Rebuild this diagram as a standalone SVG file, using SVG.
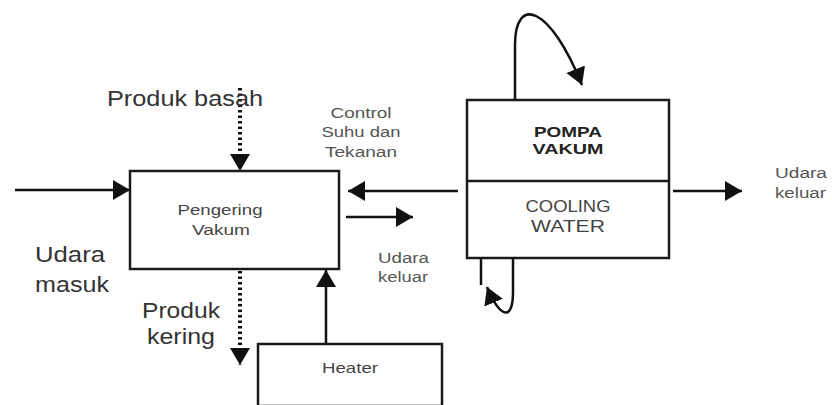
<svg xmlns="http://www.w3.org/2000/svg" width="832" height="405" viewBox="0 0 832 405">
<style>
.box{fill:#fff;stroke:#1a1a1a;stroke-width:2.5}
.ln{fill:none;stroke:#111;stroke-width:2.5}
.dot{fill:none;stroke:#111;stroke-width:4;stroke-dasharray:2.5 3}
.t{font-family:"Liberation Sans",Arial,sans-serif;fill:#333}
.big{font-size:22px}
.mid{font-size:15px;fill:#444}
.sm{font-size:14px;fill:#555}
.b{font-weight:bold;fill:#222}
</style>
<defs>
<marker id="ah" markerUnits="userSpaceOnUse" markerWidth="18" markerHeight="21" refX="17" refY="10" orient="auto">
<path d="M0,0 L17,10 L0,20 z" fill="#111"/>
</marker>
</defs>
<rect width="832" height="405" fill="#fff"/>
<g id="connectors">
<path class="ln" d="M15,190 H130" marker-end="url(#ah)"/>
<path class="dot" d="M240,88 V171" marker-end="url(#ah)"/>
<path class="dot" d="M240,271 V365" marker-end="url(#ah)"/>
<path class="ln" d="M326,344 V270" marker-end="url(#ah)"/>
<path class="ln" d="M458,191 H348" marker-end="url(#ah)"/>
<path class="ln" d="M346,217 H413" marker-end="url(#ah)"/>
<path class="ln" d="M673,191 H742" marker-end="url(#ah)"/>
<path class="ln" d="M515,100 V45 C515,-5 550,5 582,85" marker-end="url(#ah)"/>
<path class="ln" d="M481,258 V285"/>
<path class="ln" d="M513,258 V292 C513,322 500,318 487,287" marker-end="url(#ah)"/>
</g>
<g id="pengering">
<rect class="box" x="130" y="171" width="209" height="98"/>
<text class="t mid" x="220" y="215" text-anchor="middle" textLength="85" lengthAdjust="spacingAndGlyphs">Pengering</text>
<text class="t mid" x="221" y="235" text-anchor="middle" textLength="58" lengthAdjust="spacingAndGlyphs">Vakum</text>
</g>
<g id="heater">
<rect class="box" x="258" y="344" width="184" height="62"/>
<text class="t mid" x="350" y="373" text-anchor="middle" textLength="56" lengthAdjust="spacingAndGlyphs">Heater</text>
</g>
<g id="pompa">
<rect class="box" x="467" y="100" width="202" height="158"/>
<line class="box" x1="467" y1="181" x2="669" y2="181"/>
<text class="t b" font-size="15" x="568" y="137" text-anchor="middle" textLength="68" lengthAdjust="spacingAndGlyphs">POMPA</text>
<text class="t b" font-size="15" x="568" y="154" text-anchor="middle" textLength="71" lengthAdjust="spacingAndGlyphs">VAKUM</text>
<text class="t" font-size="16" x="568" y="212" text-anchor="middle" textLength="85" lengthAdjust="spacingAndGlyphs" style="fill:#444">COOLING</text>
<text class="t" font-size="16" x="568" y="232" text-anchor="middle" textLength="74" lengthAdjust="spacingAndGlyphs" style="fill:#444">WATER</text>
</g>
<g id="labels">
<text class="t big" x="107" y="106" textLength="156" lengthAdjust="spacingAndGlyphs">Produk basah</text>
<text class="t big" x="35" y="262" textLength="70" lengthAdjust="spacingAndGlyphs">Udara</text>
<text class="t big" x="35" y="292" textLength="74" lengthAdjust="spacingAndGlyphs">masuk</text>
<text class="t big" x="142" y="318" textLength="78" lengthAdjust="spacingAndGlyphs">Produk</text>
<text class="t big" x="147" y="344" textLength="68" lengthAdjust="spacingAndGlyphs">kering</text>
<text class="t sm" x="361" y="118" text-anchor="middle" textLength="61" lengthAdjust="spacingAndGlyphs">Control</text>
<text class="t sm" x="361" y="137" text-anchor="middle" textLength="79" lengthAdjust="spacingAndGlyphs">Suhu dan</text>
<text class="t sm" x="361" y="157" text-anchor="middle" textLength="72" lengthAdjust="spacingAndGlyphs">Tekanan</text>
<text class="t sm" x="378" y="263" textLength="51" lengthAdjust="spacingAndGlyphs">Udara</text>
<text class="t sm" x="378" y="282" textLength="50" lengthAdjust="spacingAndGlyphs">keluar</text>
<text class="t sm" x="775" y="178" textLength="52" lengthAdjust="spacingAndGlyphs">Udara</text>
<text class="t sm" x="775" y="198" textLength="51" lengthAdjust="spacingAndGlyphs">keluar</text>
</g>
</svg>
